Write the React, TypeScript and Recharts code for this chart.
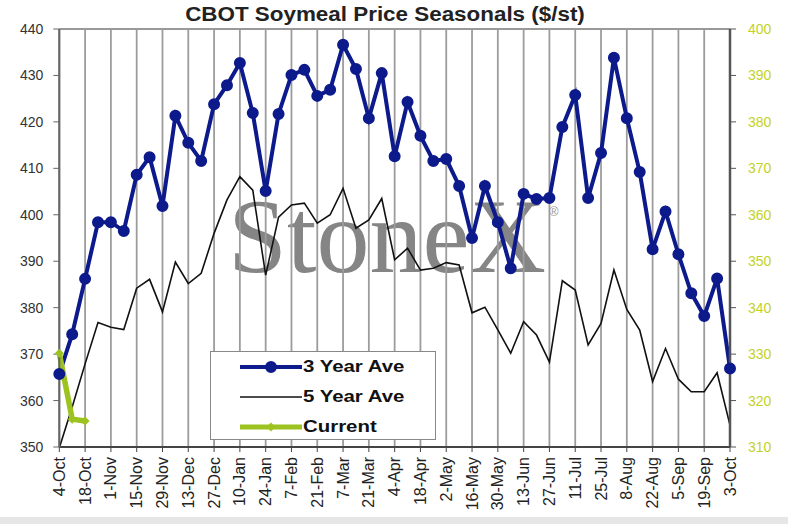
import React from "react";
import { LineChart, Line, XAxis, YAxis, CartesianGrid, ReferenceLine } from "recharts";

// tick labels every second week, 4-Oct .. 3-Oct (53 weekly points)
const tickLabels = [
  "4-Oct", "18-Oct", "1-Nov", "15-Nov", "29-Nov", "13-Dec", "27-Dec", "10-Jan", "24-Jan",
  "7-Feb", "21-Feb", "7-Mar", "21-Mar", "4-Apr", "18-Apr", "2-May", "16-May", "30-May",
  "13-Jun", "27-Jun", "11-Jul", "25-Jul", "8-Aug", "22-Aug", "5-Sep", "19-Sep", "3-Oct",
];

// 3 year average, left axis ($/st)
const threeYearAve = [
  365.7, 374.3, 386.2, 398.4, 398.4, 396.5, 408.6, 412.4, 401.9, 421.3,
  415.5, 411.6, 423.8, 427.9, 432.7, 421.9, 405.1, 421.7, 430.1, 431.2,
  425.6, 426.9, 436.6, 431.4, 420.8, 430.5, 412.6, 424.3, 417.0, 411.6,
  412.0, 406.2, 395.0, 406.2, 398.4, 388.5, 404.5, 403.4, 403.6, 418.9,
  425.8, 403.6, 413.3, 433.8, 420.8, 409.2, 392.6, 400.7, 391.5, 383.1,
  378.2, 386.3, 366.9,
];

// 5 year average, right axis
const fiveYearAve = [
  309.8, 318.6, 327.9, 336.8, 335.8, 335.3, 344.2, 346.1, 339.1, 349.8,
  345.2, 347.4, 356.0, 363.2, 368.2, 365.3, 347.0, 359.5, 362.1, 362.5,
  358.2, 360.0, 365.7, 357.1, 358.9, 363.5, 350.3, 352.8, 348.1, 348.5,
  349.7, 349.2, 338.9, 340.1, 335.2, 330.2, 337.0, 334.1, 328.3, 345.8,
  343.8, 332.0, 336.6, 348.1, 339.6, 335.2, 324.1, 331.2, 324.6, 321.9,
  321.9, 326.0, 314.7,
];

// current season, right axis
const current = [330.2, 316.0, 315.6];

const leftTicks = [350, 360, 370, 380, 390, 400, 410, 420, 430, 440];
const rightTicks = [310, 320, 330, 340, 350, 360, 370, 380, 390, 400];

const BLUE = "#0d1a8c";
const GREEN = "#9cc31f";
const RIGHT_LABEL = "#c3d21f";
const FONT = "'Liberation Sans', Arial, sans-serif";

const data = threeYearAve.map((v, i) => ({
  week: i,
  y3: v,
  y5: fiveYearAve[i],
  cur: i < current.length ? current[i] : null,
}));

const xTicks = tickLabels.map((_, i) => i * 2);

function XTick(props: any) {
  const { x, y, payload } = props;
  return (
    <text
      x={x}
      y={y}
      dy="0.35em"
      textAnchor="end"
      transform={`rotate(-90 ${x} ${y})`}
      fontSize={16}
      fontFamily={FONT}
      fill="#222"
    >
      {tickLabels[payload.value / 2]}
    </text>
  );
}

function Diamond(props: any) {
  const { cx, cy } = props;
  if (cx == null || cy == null) return null;
  return <path d={`M${cx},${cy - 4.5} L${cx + 4.5},${cy} L${cx},${cy + 4.5} L${cx - 4.5},${cy} Z`} fill={GREEN} />;
}

function LegendBox() {
  const row = (top: number, label: string, sample: React.ReactNode) => (
    <div style={{ position: "absolute", left: 0, top: top - 12, height: 24, width: "100%" }}>
      <svg width={92} height={24} style={{ position: "absolute", left: 0, top: 0 }}>{sample}</svg>
      <span
        style={{
          position: "absolute", left: 92, top: 0, lineHeight: "24px", fontSize: 17, fontWeight: "bold",
          fontFamily: FONT, color: "#111", whiteSpace: "nowrap", transform: "scaleX(1.2)", transformOrigin: "left center",
        }}
      >
        {label}
      </span>
    </div>
  );
  return (
    <div
      style={{
        position: "absolute", left: 210, top: 351, width: 226, height: 89,
        border: "1px solid #888", background: "#fff", boxSizing: "border-box",
      }}
    >
      {row(14.7, "3 Year Ave", (
        <g>
          <line x1={29} y1={12} x2={91} y2={12} stroke={BLUE} strokeWidth={4} />
          <circle cx={60} cy={12} r={5} fill={BLUE} stroke={BLUE} strokeWidth={2} />
        </g>
      ))}
      {row(44.7, "5 Year Ave", <line x1={29} y1={12} x2={91} y2={12} stroke="#111" strokeWidth={1.6} />)}
      {row(74.7, "Current", (
        <g>
          <line x1={29} y1={12} x2={91} y2={12} stroke={GREEN} strokeWidth={5} />
          <path d="M60,7.5 L64.5,12 L60,16.5 L55.5,12 Z" fill={GREEN} />
        </g>
      ))}
    </div>
  );
}

export default function App() {
  return (
    <div style={{ position: "absolute", left: 0, top: 0, width: 788, height: 524, background: "#fff", overflow: "hidden" }}>
      {/* watermark */}
      <svg width={788} height={524} style={{ position: "absolute", left: 0, top: 0 }}>
        <text x={228} y={272} fontSize={106} fontFamily="'Liberation Serif', 'Times New Roman', serif" fill="#858585">
          StoneX
        </text>
        <text x={549} y={216} fontSize={13} fontFamily={FONT} fill="#999">®</text>
      </svg>

      <div
        style={{
          position: "absolute", left: 0, top: 4, width: 770, textAlign: "center", fontFamily: FONT,
          fontWeight: "bold", fontSize: 20, lineHeight: "20px", color: "#222", transform: "scaleX(1.12)",
        }}
      >
        CBOT Soymeal Price Seasonals ($/st)
      </div>

      <div style={{ position: "absolute", left: 0, top: 0 }}>
        <LineChart width={788} height={524} data={data} margin={{ top: 29, right: 8, bottom: 7, left: 8 }}>
          <CartesianGrid vertical horizontal={false} stroke="#9c9c9c" strokeWidth={1.8} />
          <XAxis
            type="number"
            dataKey="week"
            domain={[0, 52]}
            ticks={xTicks}
            interval={0}
            height={70}
            tick={<XTick />}
            tickSize={5}
            tickMargin={5}
            axisLine={{ stroke: "#444", strokeWidth: 2 }}
            tickLine={{ stroke: "#444" }}
          />
          <YAxis
            yAxisId="left"
            domain={[350, 440]}
            ticks={leftTicks}
            width={51.3}
            tickSize={6}
            tickMargin={10}
            allowDataOverflow
            tick={{ fontSize: 14, fill: "#333", fontFamily: FONT }}
            axisLine={{ stroke: "#666", strokeWidth: 2 }}
            tickLine={{ stroke: "#666" }}
          />
          <YAxis
            yAxisId="right"
            orientation="right"
            domain={[310, 400]}
            ticks={rightTicks}
            width={50}
            tickSize={6}
            tickMargin={12}
            allowDataOverflow
            tick={{ fontSize: 14, fill: RIGHT_LABEL, fontFamily: FONT }}
            axisLine={{ stroke: "#555", strokeWidth: 2.5 }}
            tickLine={{ stroke: "#555" }}
          />
          <ReferenceLine yAxisId="left" y={440} stroke="#999" strokeWidth={2} />
          <Line
            yAxisId="right"
            dataKey="y5"
            stroke="#111"
            strokeWidth={1.6}
            dot={false}
            isAnimationActive={false}
          />
          <Line
            yAxisId="left"
            dataKey="y3"
            stroke={BLUE}
            strokeWidth={4}
            dot={{ r: 5, fill: BLUE, stroke: BLUE, strokeWidth: 2 }}
            isAnimationActive={false}
          />
          <Line
            yAxisId="right"
            dataKey="cur"
            stroke={GREEN}
            strokeWidth={5.5}
            dot={<Diamond />}
            connectNulls={false}
            isAnimationActive={false}
          />
        </LineChart>
      </div>

      <LegendBox />

      <div style={{ position: "absolute", left: 0, top: 517, width: 788, height: 7, background: "#e6e6e6" }} />
    </div>
  );
}
